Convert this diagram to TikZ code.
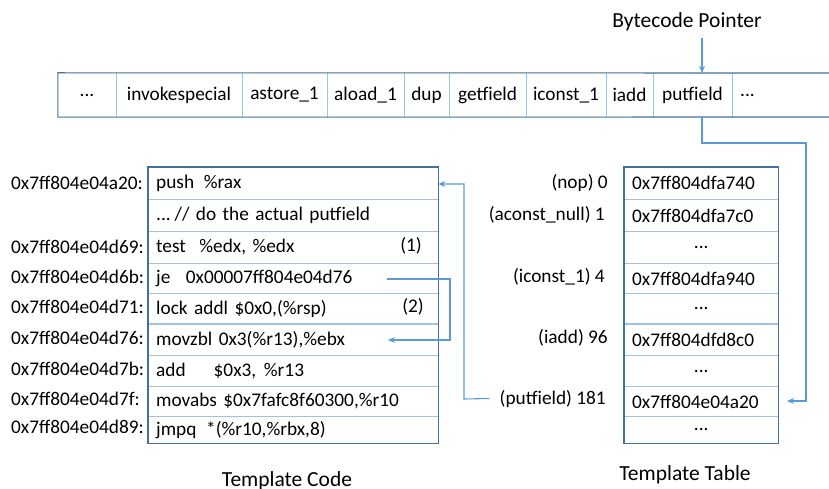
\documentclass[tikz,border=0pt]{standalone}
\usepackage{fontspec}
\setmainfont{Carlito}
\usetikzlibrary{arrows.meta}
\definecolor{darkb}{HTML}{41719C}
\definecolor{lightb}{HTML}{9DC3E6}
\definecolor{connb}{HTML}{5B9BD5}
\begin{document}
\begin{tikzpicture}[x=1pt,y=-1pt,
  txt/.style={inner sep=0pt, font=\fontsize{19.3}{21}\selectfont},
  ttl/.style={inner sep=0pt, font=\fontsize{21.5}{23}\selectfont},
  cell/.style={txt, minimum height=44pt},
  crow/.style={txt, anchor=north west, text width=274pt, inner xsep=8pt, align=left},
  trow/.style={txt, anchor=north west, text width=138pt, inner xsep=8pt, align=left},
  tdots/.style={trow, align=center},
  outer/.style={draw=darkb, line width=1.1pt},
  sep/.style={draw=lightb, line width=1.1pt},
  conn/.style={draw=connb, line width=1.1pt},
  arr/.style={conn, -{Stealth[length=7pt,width=6pt]}}]
\useasboundingbox (0,0) rectangle (829,489);

% bytecode strip
\node[cell, minimum width=58pt]  (b0) at (87,95) {...};
\node[cell, minimum width=126pt] (b1) at (179,95) {invokespecial};
\node[cell, minimum width=85pt]  (b2) at (284.5,95) {astore\_1};
\node[cell, minimum width=77pt]  (b3) at (365.5,95) {aload\_1};
\node[cell, minimum width=45pt]  (b4) at (426.5,95) {dup};
\node[cell, minimum width=77pt]  (b5) at (487.5,95) {getfield};
\node[cell, minimum width=80pt]  (b6) at (566,95) {iconst\_1};
\node[cell, minimum width=47pt]  (b7) at (629.5,95) {iadd};
\node[cell, minimum width=79pt]  (b8) at (692.5,95) {putfield};
\node[txt, anchor=west] (b9) at (740,95) {...};
\foreach \c in {b0,b1,b2,b3,b4,b5,b6,b7}
  \draw[sep] (\c.north east) -- (\c.south east);
\draw[sep] (b8.north east) -- (b8.south east);
\draw[outer] (829,73) -- (b0.north west) -- (b0.south west) -- (829,117);

\node[ttl] (bp) at (687,22) {Bytecode Pointer};
\coordinate (bpt) at (702,38);
\draw[arr] (bpt) -- (bpt |- b8.north);

% template code
\node[crow, minimum height=32pt] (c1) at (148,167) {push\hspace{0.5em}\%rax};
\node[crow, minimum height=32pt] (c2) at (c1.south west) {...\hspace{0.2em}// do the actual putfield};
\node[crow, minimum height=31pt] (c3) at (c2.south west) {test\hspace{0.7em}\%edx, \%edx};
\node[crow, minimum height=30pt] (c4) at (c3.south west) {je\hspace{0.8em}0x00007ff804e04d76};
\node[crow, minimum height=30pt] (c5) at (c4.south west) {lock addl \$0x0,(\%rsp)};
\node[crow, minimum height=31pt] (c6) at (c5.south west) {movzbl 0x3(\%r13),\%ebx};
\node[crow, minimum height=31pt] (c7) at (c6.south west) {add\hspace{1.45em}\$0x3,\hspace{0.4em}\%r13};
\node[crow, minimum height=29pt] (c8) at (c7.south west) {movabs \$0x7fafc8f60300,\%r10};
\node[crow, minimum height=27pt] (c9) at (c8.south west) {jmpq\hspace{0.5em}*(\%r10,\%rbx,8)};
\foreach \c in {c1,c2,c3,c4,c5,c6,c7,c8}
  \draw[sep] (\c.south west) -- (\c.south east);
\draw[outer] (c1.north west) rectangle (c9.south east);
\node[txt] (n1) at (411,246) {(1)};
\node[txt] (n2) at (413,307) {(2)};

% addresses
\node[txt, anchor=west] (a1) at (11,183) {0x7ff804e04a20:};
\node[txt, anchor=west] (a3) at (11,246.5) {0x7ff804e04d69:};
\node[txt, anchor=west] (a4) at (11,277) {0x7ff804e04d6b:};
\node[txt, anchor=west] (a5) at (11,307) {0x7ff804e04d71:};
\node[txt, anchor=west] (a6) at (11,337.5) {0x7ff804e04d76:};
\node[txt, anchor=west] (a7) at (11,368.5) {0x7ff804e04d7b:};
\node[txt, anchor=west] (a8) at (11,398.5) {0x7ff804e04d7f:};
\node[txt, anchor=west] (a9) at (11,426.5) {0x7ff804e04d89:};

% template table
\node[trow,  minimum height=32pt] (t1) at (624,167) {0x7ff804dfa740};
\node[trow,  minimum height=32pt] (t2) at (t1.south west) {0x7ff804dfa7c0};
\node[tdots, minimum height=31pt] (t3) at (t2.south west) {...};
\node[trow,  minimum height=30pt] (t4) at (t3.south west) {0x7ff804dfa940};
\node[tdots, minimum height=30pt] (t5) at (t4.south west) {...};
\node[trow,  minimum height=31pt] (t6) at (t5.south west) {0x7ff804dfd8c0};
\node[tdots, minimum height=31pt] (t7) at (t6.south west) {...};
\node[trow,  minimum height=29pt] (t8) at (t7.south west) {0x7ff804e04a20};
\node[tdots, minimum height=27pt] (t9) at (t8.south west) {...};
\foreach \c in {t1,t2,t3,t4,t5,t6,t7,t8}
  \draw[sep] (\c.south west) -- (\c.south east);
\draw[outer] (t1.north west) rectangle (t9.south east);

% table labels
\node[txt, anchor=east] (l1) at (608,183) {(nop) 0};
\node[txt, anchor=east] (l2) at (605,215) {(aconst\_null) 1};
\node[txt, anchor=east] (l4) at (605,277) {(iconst\_1) 4};
\node[txt, anchor=east] (l6) at (608,337.5) {(iadd) 96};
\node[txt, anchor=east] (l8) at (606,398.5) {(putfield) 181};

% connectors
\coordinate (p1) at (702,143);
\coordinate (p2) at (806,143);
\coordinate (p3) at (806,401);
\coordinate (p4) at (787,401);
\draw[arr] (p1 |- b8.south) -- (p1) -- (p2) -- (p3) -- (p4);

\coordinate (q1) at (464,399);
\coordinate (q2) at (464,184);
\draw[arr] ([xshift=-10pt]l8.west) -- (q1) -- (q2) -- (q2 -| c1.east);

\coordinate (r0) at (387,279);
\coordinate (r1) at (450,279);
\coordinate (r2) at (450,340);
\coordinate (r3) at (388,340);
\draw[arr] (r0) -- (r1) -- (r2) -- (r3);

% titles
\node[ttl] (tc) at (287,481) {Template Code};
\node[ttl] (tt) at (685,475) {Template Table};
\end{tikzpicture}
\end{document}
